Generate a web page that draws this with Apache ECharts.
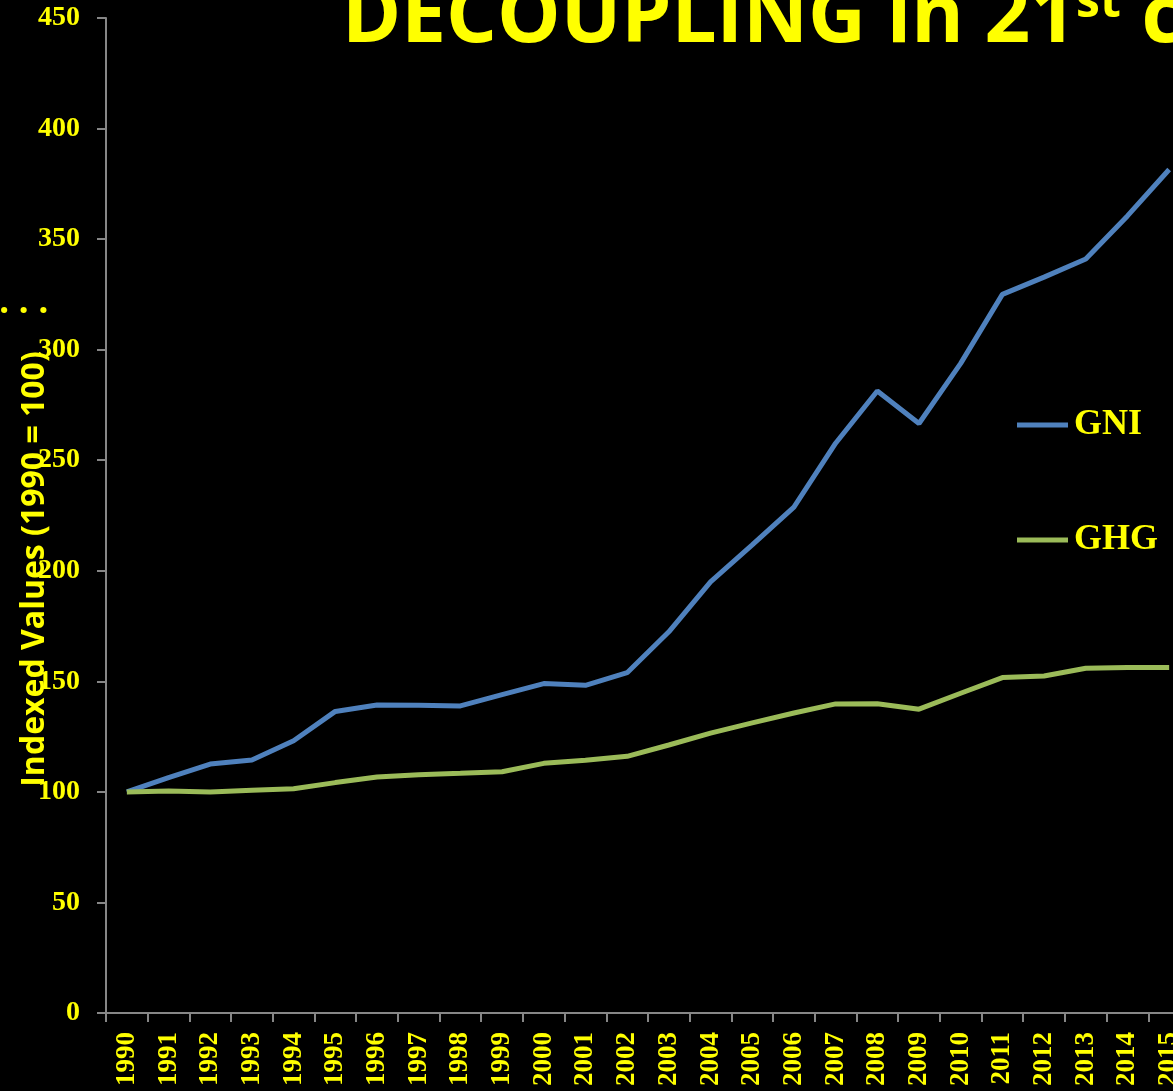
<!DOCTYPE html>
<html>
<head>
<meta charset="utf-8">
<script src="https://cdn.jsdelivr.net/npm/echarts@6/dist/echarts.min.js"></script>
<style>
  html, body { margin: 0; padding: 0; background: #000; overflow: hidden; }
  #chart { width: 1190px; height: 1091px; }
</style>
</head>
<body>
<div id="chart"></div>
<script>
// Years on the category axis
const years = ['1990','1991','1992','1993','1994','1995','1996','1997','1998','1999',
  '2000','2001','2002','2003','2004','2005','2006','2007','2008','2009',
  '2010','2011','2012','2013','2014','2015'];

// Gross national income, indexed to 1990 = 100
const gniValues = [100, 106.5, 112.6, 114.4, 123.1, 136.4, 139.3, 139.2, 138.9, 144.0,
  149.0, 148.2, 153.9, 172.4, 195.0, 211.7, 228.8, 257.7, 281.3, 266.6,
  293.8, 325.0, 332.8, 341.0, 360.5, 381.5];

// Greenhouse gas emissions, indexed to 1990 = 100
const ghgValues = [100, 100.4, 100.0, 100.7, 101.4, 104.2, 106.7, 107.8, 108.4, 109.1,
  112.9, 114.3, 116.1, 121.2, 126.6, 131.2, 135.7, 139.8, 139.9, 137.4,
  144.6, 151.7, 152.4, 155.9, 156.2, 156.2];

const seriesNames = ['GNI', 'GHG'];
const yAxisTitle = 'Indexed Values (1990 = 100)';

const YELLOW = '#FFFF00';
const AXIS_GREY = '#868686';
const GNI_BLUE = '#4F81BD';
const GHG_GREEN = '#9BBB59';
const SERIF = '"Liberation Serif", "Times New Roman", serif';
const SANS = '"Open Sans", "Noto Sans", sans-serif';

const chart = echarts.init(document.getElementById('chart'));

chart.setOption({
  backgroundColor: '#000000',
  animation: false,
  grid: { left: 106, right: 0, top: 18, bottom: 78, containLabel: false },
  legend: {
    orient: 'vertical',
    left: 1017,
    top: 407,
    padding: 0,
    icon: 'rect',
    itemWidth: 51,
    itemHeight: 5,
    itemGap: 79,
    data: seriesNames,
    textStyle: {
      color: YELLOW, fontFamily: SERIF, fontWeight: 'bold', fontSize: 36,
      lineHeight: 36, padding: [0, 0, 0, 1]
    }
  },
  xAxis: {
    type: 'category',
    data: years,
    boundaryGap: true,
    axisLine: { lineStyle: { color: AXIS_GREY, width: 2 } },
    axisTick: { show: true, length: 9, lineStyle: { color: AXIS_GREY, width: 2 } },
    axisLabel: {
      interval: 0, rotate: 90, margin: 19,
      color: YELLOW, fontFamily: SERIF, fontWeight: 'bold', fontSize: 27
    },
    splitLine: { show: false }
  },
  yAxis: {
    type: 'value',
    min: 0, max: 450, interval: 50,
    axisLine: { show: true, lineStyle: { color: AXIS_GREY, width: 2 } },
    axisTick: { show: true, length: 9, lineStyle: { color: AXIS_GREY, width: 2 } },
    axisLabel: {
      margin: 26,
      color: YELLOW, fontFamily: SERIF, fontWeight: 'bold', fontSize: 28
    },
    splitLine: { show: false }
  },
  series: [
    {
      name: seriesNames[0], type: 'line', data: gniValues,
      symbol: 'none', smooth: false,
      lineStyle: { color: GNI_BLUE, width: 5 },
      itemStyle: { color: GNI_BLUE }
    },
    {
      name: seriesNames[1], type: 'line', data: ghgValues,
      symbol: 'none', smooth: false,
      lineStyle: { color: GHG_GREEN, width: 5 },
      itemStyle: { color: GHG_GREEN }
    }
  ],
  graphic: [
    {
      // Slide heading with superscript ordinal
      type: 'text', left: 342, top: -21, z: 10,
      style: {
        text: '{m|DECOUPLING in 21}{s|st}{m| century}',
        fill: YELLOW,
        rich: {
          m: { fontFamily: SANS, fontWeight: 'bold', fontSize: 80, fill: YELLOW, color: YELLOW },
          s: { fontFamily: SANS, fontWeight: 'bold', fontSize: 48, fill: YELLOW, color: YELLOW, verticalAlign: 'top' }
        }
      }
    },
    {
      // Vertical value-axis caption
      type: 'text', x: 35, y: 569, rotation: Math.PI / 2, z: 10,
      style: {
        text: yAxisTitle,
        fill: YELLOW,
        font: 'bold 32px ' + SANS,
        textAlign: 'center',
        textVerticalAlign: 'middle'
      }
    },
    {
      type: 'text', x: -1, y: 303, z: 10,
      style: {
        text: '. . .',
        fill: YELLOW,
        font: 'bold 36px ' + SANS,
        textAlign: 'left',
        textVerticalAlign: 'middle'
      }
    }
  ]
});
</script>
</body>
</html>
